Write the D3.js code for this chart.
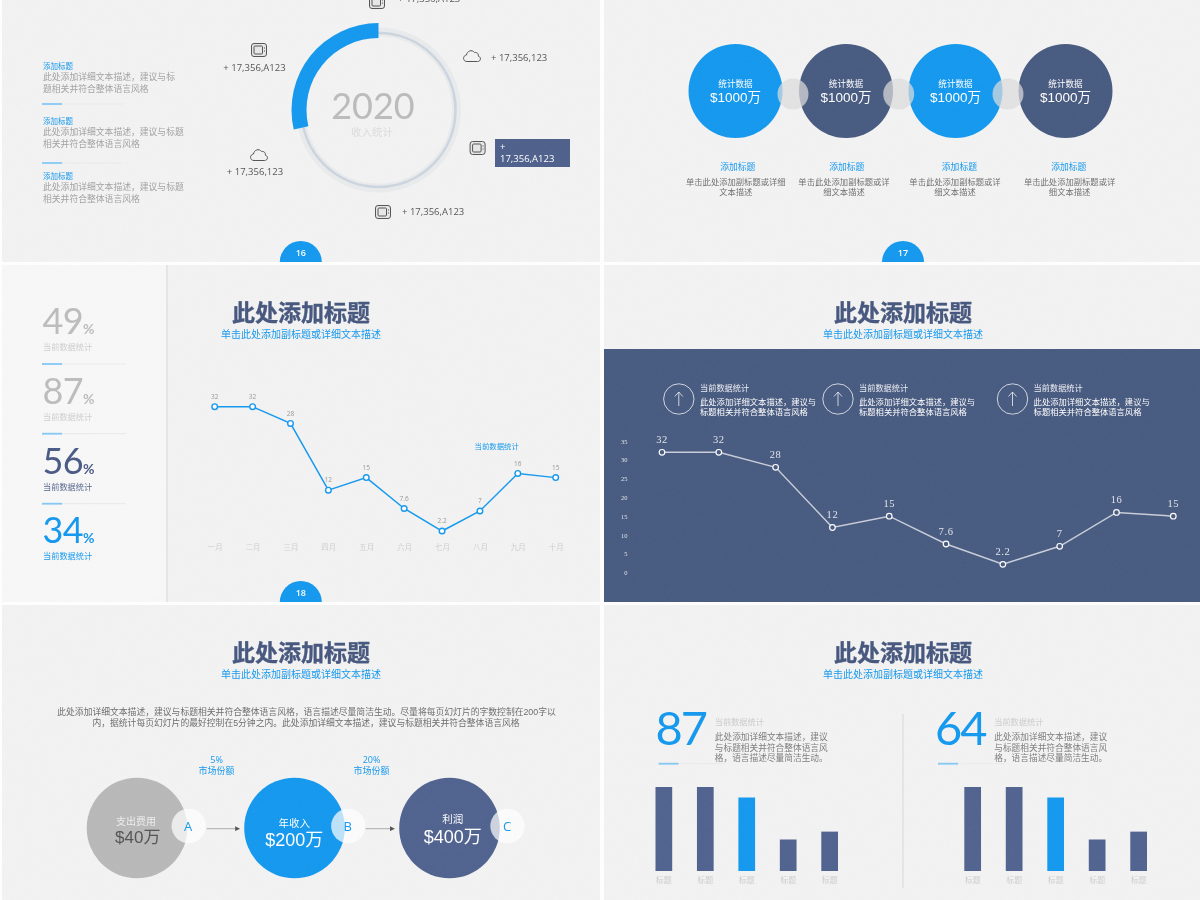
<!DOCTYPE html>
<html><head><meta charset="utf-8">
<style>html,body{margin:0;padding:0;background:#fff}svg{display:block}</style>
<script src="https://cdn.jsdelivr.net/npm/d3@7"></script>
</head><body><div id="c"></div>
<script>
// ---- data ----
const ringYear = "2020";
const ringLabel = "收入统计";
const ringShare = 0.286;
const sideTitle = "添加标题";
const sideBodies = [["此处添加详细文本描述，建议与标","题相关并符合整体语言风格"],["此处添加详细文本描述，建议与标题","相关并符合整体语言风格"],["此处添加详细文本描述，建议与标题","相关并符合整体语言风格"]];
const statCircleValues = ["$1000万","$1000万","$1000万","$1000万"];
const statCircleLabel = "统计数据";
const statBodies = [["单击此处添加副标题或详细","文本描述"],["单击此处添加副标题或详","细文本描述"],["单击此处添加副标题或详","细文本描述"],["单击此处添加副标题或详","细文本描述"]];
const months = ["一月","二月","三月","四月","五月","六月","七月","八月","九月","十月"];
const lineValues = [32,32,28,12,15,7.6,2.2,7,16,15];
const percents = [49,87,56,34];
const yTicks = [0,5,10,15,20,25,30,35];
const barLabels = ["标题a","标题b","标题c","标题d","标题e"];
const barValues = [32,32,28,12,15];
const barHighlight = "标题c";
const flowLabels = ["支出费用","年收入","利润"];
const flowValues = ["$40万","$200万","$400万"];
const flowLetters = ["A","B","C"];
const shareLabels = ["5%","20%"];
const titleText = "此处添加标题";
const subText = "单击此处添加副标题或详细文本描述";
const statLabel = "当前数据统计";

// ---- style ----
const BLUE="#1599ef", NAVY="#485a80", NAVY2="#50638f", GREY="#bdbdbd";
const CJK='"Liberation Sans","Noto Sans CJK SC",sans-serif', LATIN='"Open Sans","Noto Sans CJK SC",sans-serif', BIG='Lato,"Open Sans",sans-serif', SERIF='"Liberation Serif",serif';
const svg=d3.select("#c").append("svg").attr("width",1200).attr("height",900);
const defs=svg.append("defs");
const noise=defs.append("filter").attr("id","noise").attr("x",0).attr("y",0).attr("width","100%").attr("height","100%");
noise.append("feTurbulence").attr("type","fractalNoise").attr("baseFrequency",0.9).attr("numOctaves",2).attr("seed",4);
noise.append("feColorMatrix").attr("values","0 0 0 0 0.5  0 0 0 0 0.5  0 0 0 0 0.5  0 0 0 0.09 -0.01");
const soft=defs.append("filter").attr("id","soft").attr("x",0).attr("y",0).attr("width",1200).attr("height",900).attr("filterUnits","userSpaceOnUse");
soft.append("feGaussianBlur").attr("stdDeviation",0.45);
const mk=defs.append("marker").attr("id","arrow").attr("viewBox","0 0 6 6").attr("refX",5).attr("refY",3).attr("markerWidth",6).attr("markerHeight",6).attr("orient","auto");
mk.append("path").attr("d","M0,0L6,3L0,6Z").attr("fill","#555");

const root=svg.append("g").attr("filter","url(#soft)");
const slides=[[2,0,598,262],[604,0,596,262],[2,265,598,337],[604,265,596,337],[2,605,598,295],[604,605,596,295]];
const groups=slides.map((s,i)=>{
  defs.append("clipPath").attr("id","cl"+i).append("rect").attr("x",s[0]).attr("y",s[1]).attr("width",s[2]).attr("height",s[3]);
  const g=root.append("g").attr("clip-path",`url(#cl${i})`);
  g.append("rect").attr("x",s[0]).attr("y",s[1]).attr("width",s[2]).attr("height",s[3]).attr("fill","#f3f3f3");
  return g;
});
const hasCJK=s=>/[\u3000-\u9fff\uff00-\uffef]/.test(s);
function T(g,x,y,s,size,fill,anchor,weight){
  return g.append("text").attr("x",x).attr("y",y).attr("dy","0.35em").attr("font-size",size).attr("fill",fill)
    .attr("text-anchor",anchor||"start").attr("font-weight",weight||400).attr("font-family",hasCJK(s)?CJK:LATIN).text(s);
}
function pageBadge(g,cx,cy,n){
  g.append("circle").attr("cx",cx).attr("cy",cy).attr("r",21).attr("fill",BLUE);
  T(g,cx,cy-9,n,9,"#fff","middle",600);
}
function head(g,cx,top){
  T(g,cx,top+48,titleText,23,"#47587f","middle",700).attr("stroke","#47587f").attr("stroke-width",0.35);
  T(g,cx,top+69,subText,10,BLUE,"middle");
}
function rule(g,x,y,x2){
  g.append("line").attr("x1",x).attr("x2",x2).attr("y1",y).attr("y2",y).attr("stroke","#ececec").attr("stroke-width",1.2);
  g.append("line").attr("x1",x).attr("x2",x+20).attr("y1",y).attr("y2",y).attr("stroke","#85c9f5").attr("stroke-width",1.8);
}
function tvIcon(g,cx,cy){
  const k=g.append("g").attr("transform",`translate(${cx},${cy})`).attr("fill","none").attr("stroke","#555").attr("stroke-width",1);
  k.append("rect").attr("x",-7.5).attr("y",-6.5).attr("width",15).attr("height",13).attr("rx",2.5).attr("fill","#e8e8e8");
  k.append("rect").attr("x",-5).attr("y",-4).attr("width",8.5).attr("height",8).attr("rx",1);
  k.append("line").attr("x1",5).attr("x2",6).attr("y1",-2).attr("y2",-2);
  k.append("line").attr("x1",5).attr("x2",6).attr("y1",1).attr("y2",1);
}
function cloudIcon(g,cx,cy){
  g.append("path").attr("transform",`translate(${cx},${cy})`).attr("fill","none").attr("stroke","#555").attr("stroke-width",1)
   .attr("d","M-5,5.5C-9.5,5.5,-9.5,-0.5,-5.5,-1C-5,-5,0,-7,2.5,-3.5C5,-4,7,-2,6.2,0C9.5,1,9,5.5,5.5,5.5Z");
}

// ---- slide 16: ring ----
(function(){
  const g=groups[0], cx=378.5, cy=110;
  g.append("circle").attr("cx",cx).attr("cy",cy).attr("r",78).attr("fill","none").attr("stroke","#e9ebed").attr("stroke-width",9);
  g.append("circle").attr("cx",cx).attr("cy",cy).attr("r",77).attr("fill","none").attr("stroke","#cdd6e0").attr("stroke-width",2.6);
  const arc=d3.arc().innerRadius(72).outerRadius(87).startAngle(-ringShare*2*Math.PI).endAngle(0);
  g.append("path").attr("transform",`translate(${cx},${cy})`).attr("d",arc()).attr("fill",BLUE);
  g.append("text").attr("x",373).attr("y",118.5).attr("text-anchor","middle").attr("font-family",BIG).attr("font-size",36).attr("fill","#bcbcbc").text(ringYear);
  T(g,372,132.5,ringLabel,10.5,"#dcdcdc","middle");
  const tops=[66,121,176];
  sideBodies.forEach((b,i)=>{
    T(g,43,tops[i],sideTitle,7.5,BLUE);
    b.forEach((l,j)=>T(g,43,tops[i]+11+j*12,l,8.8,"#a3a3a3"));
  });
  rule(g,42,104,124); rule(g,42,163,122);
  const lab="#555", fs=9.5;
  tvIcon(g,377,2); T(g,398,-1,"+ 17,356,A123",fs,lab);
  cloudIcon(g,472,56); T(g,491,58,"+ 17,356,123",fs,lab);
  tvIcon(g,259,50); T(g,254.5,68,"+ 17,356,A123",fs,lab,"middle");
  cloudIcon(g,259,155); T(g,255,172,"+ 17,356,123",fs,lab,"middle");
  tvIcon(g,477.6,148);
  g.append("rect").attr("x",495).attr("y",139).attr("width",75).attr("height",28).attr("fill","#4f618c");
  T(g,500,147,"+",fs,"#fff"); T(g,500,159,"17,356,A123",fs,"#fff");
  tvIcon(g,383,212); T(g,402,212,"+ 17,356,A123",fs,lab);
  pageBadge(g,300.8,262,"16");
})();

// ---- slide 17: circles ----
(function(){
  const g=groups[1];
  const cxs=[735.5,846,955.5,1065.5], cols=[BLUE,NAVY,BLUE,NAVY];
  const bodyX=[735.8,844,955,1069.6], titleX=[737.8,846.8,959.4,1068.8];
  g.selectAll(".big").data(statCircleValues).join("circle").attr("cx",(d,i)=>cxs[i]).attr("cy",91).attr("r",47).attr("fill",(d,i)=>cols[i]);
  [793,898.7,1008].forEach(x=>g.append("circle").attr("cx",x).attr("cy",94).attr("r",15.5).attr("fill","#dcdcdc").attr("opacity",0.72));
  statCircleValues.forEach((v,i)=>{
    T(g,cxs[i],84,statCircleLabel,8.6,"#fff","middle");
    T(g,cxs[i],96.8,v,13.5,"#fff","middle");
    T(g,titleX[i],167,sideTitle,8.8,BLUE,"middle");
    statBodies[i].forEach((l,j)=>T(g,bodyX[i],182+j*10,l,8.3,"#707070","middle"));
  });
  pageBadge(g,903,262,"17");
})();

// ---- slide 18: line on light ----
(function(){
  const g=groups[2];
  g.append("rect").attr("x",2).attr("y",265).attr("width",165).attr("height",337).attr("fill","#f8f8f8");
  g.append("line").attr("x1",167).attr("x2",167).attr("y1",265).attr("y2",602).attr("stroke","#e2e2e2").attr("stroke-width",1.5);
  const base=[334,403.7,473.7,543], cols=[GREY,GREY,"#4a5a86",BLUE], labCols=["#cfcfcf","#cfcfcf","#56668e",BLUE];
  percents.forEach((p,i)=>{
    g.append("text").attr("x",42.5).attr("y",base[i]).attr("font-family",BIG).attr("font-size",36).attr("letter-spacing",-0.6).attr("fill",cols[i]).text(p);
    g.append("text").attr("x",83).attr("y",base[i]).attr("font-family",BIG).attr("font-size",14).attr("font-weight",700).attr("fill",cols[i]).text("%");
    T(g,43,base[i]+13.5,statLabel,8.2,labCols[i]);
    if(i<3) rule(g,42,base[i]+30,126);
  });
  head(g,301,265);
  const x=d3.scalePoint().domain(months).range([214.7,555.7]);
  const y=d3.scaleLinear().domain([0,32]).range([540.2,406.7]);
  const line=d3.line().x((d,i)=>x(months[i])).y(d=>y(d));
  g.append("path").attr("d",line(lineValues)).attr("fill","none").attr("stroke",BLUE).attr("stroke-width",1.5);
  g.selectAll(".pt").data(lineValues).join("circle").attr("cx",(d,i)=>x(months[i])).attr("cy",d=>y(d)).attr("r",2.8).attr("fill","#fff").attr("stroke",BLUE).attr("stroke-width",1.4);
  g.selectAll(".lb").data(lineValues).join("text").attr("x",(d,i)=>x(months[i])).attr("y",d=>y(d)-10).attr("dy","0.35em").attr("text-anchor","middle").attr("font-family",LATIN).attr("font-size",6.5).attr("fill","#999").text(d=>d);
  const ax=g.append("g").attr("transform","translate(0,545)").call(d3.axisBottom(x).tickSize(0).tickPadding(0));
  ax.select(".domain").remove();
  ax.selectAll("text").attr("font-size",7.5).attr("fill","#d0d0d0").attr("font-family",CJK);
  T(g,474.5,446.7,statLabel,7.4,BLUE);
  pageBadge(g,300.8,602,"18");
})();

// ---- slide 19: line on navy ----
(function(){
  const g=groups[3];
  head(g,903,265);
  g.append("rect").attr("x",604).attr("y",349).attr("width",596).attr("height",253).attr("fill",NAVY);
  [[678.8,700],[838,859],[1012.5,1033.6]].forEach(p=>{
    g.append("circle").attr("cx",p[0]).attr("cy",399).attr("r",15.2).attr("fill","none").attr("stroke","#dfe3ea").attr("stroke-width",0.9);
    g.append("path").attr("transform",`translate(${p[0]},399)`).attr("fill","none").attr("stroke","#dfe3ea").attr("stroke-width",0.9).attr("d","M0,7V-7M-4,-2.5L0,-7L4,-2.5");
    T(g,p[1],387.7,statLabel,8.2,"#eef0f4");
    T(g,p[1],402.3,"此处添加详细文本描述，建议与",8.3,"#fff");
    T(g,p[1],412.2,"标题相关并符合整体语言风格",8.3,"#fff");
  });
  const x=d3.scalePoint().domain(months).range([662,1173.3]);
  const y=d3.scaleLinear().domain([0,35]).range([572.6,441]);
  const line=d3.line().x((d,i)=>x(months[i])).y(d=>y(d));
  g.append("path").attr("d",line(lineValues)).attr("fill","none").attr("stroke","#c9ced9").attr("stroke-width",1.5);
  g.selectAll(".pt").data(lineValues).join("circle").attr("cx",(d,i)=>x(months[i])).attr("cy",d=>y(d)).attr("r",2.8).attr("fill",NAVY).attr("stroke","#fff").attr("stroke-width",1.2);
  g.selectAll(".lb").data(lineValues).join("text").attr("x",(d,i)=>x(months[i])).attr("y",d=>y(d)-13).attr("dy","0.35em").attr("text-anchor","middle").attr("font-size",10.5).attr("fill","#e3e6ec").attr("font-family",SERIF).attr("letter-spacing",0.6).text(d=>d);
  const ax=g.append("g").attr("transform","translate(627.5,0)").call(d3.axisLeft(y).tickValues(yTicks).tickSize(0).tickPadding(0));
  ax.select(".domain").remove();
  ax.selectAll("text").attr("font-size",6.5).attr("fill","#e3e6ec").attr("font-family",SERIF);
})();

// ---- slide 20: flow ----
(function(){
  const g=groups[4];
  head(g,301,605);
  T(g,306.5,712,"此处添加详细文本描述，建议与标题相关并符合整体语言风格，语言描述尽量简洁生动。尽量将每页幻灯片的字数控制在200字以",8.8,"#6e6e6e","middle");
  T(g,306,723,"内，据统计每页幻灯片的最好控制在5分钟之内。此处添加详细文本描述，建议与标题相关并符合整体语言风格",8.8,"#6e6e6e","middle");
  const cxs=[137,294.5,449.5], cols=["#b9b9b9",BLUE,NAVY2];
  const smallX=[188.7,348.3,507.5];
  g.selectAll(".f").data(flowLabels).join("circle").attr("cx",(d,i)=>cxs[i]).attr("cy",828).attr("r",50.3).attr("fill",(d,i)=>cols[i]);
  flowLetters.forEach((l,i)=>{
    g.append("circle").attr("cx",smallX[i]).attr("cy",826).attr("r",17.2).attr("fill","#fff").attr("opacity",0.72);
    T(g,smallX[i]-0.5,826,l,13,BLUE,"middle");
  });
  const labY=[821,823,819], valY=[836.6,840,836.6], valSize=[17,18,18], valX=[137.8,294.3,452.7], labX=[136,294.3,452.7], valCols=["#555","#fff","#fff"], labS=[10,10.5,10.5];
  flowLabels.forEach((l,i)=>{
    T(g,labX[i],labY[i],l,labS[i],i==0?"#eeeeee":"#fff","middle");
    T(g,valX[i],valY[i],flowValues[i],valSize[i],valCols[i],"middle",400);
  });
  [[206.7,239.2],[365.5,394]].forEach(a=>g.append("line").attr("x1",a[0]).attr("x2",a[1]).attr("y1",828.7).attr("y2",828.7).attr("stroke","#999").attr("stroke-width",0.8).attr("marker-end","url(#arrow)"));
  [216.6,371.6].forEach((x,i)=>{
    T(g,x,759.7,shareLabels[i],9,BLUE,"middle");
    T(g,x,771,"市场份额",9,BLUE,"middle");
  });
})();

// ---- slide 21: bars ----
(function(){
  const g=groups[5];
  head(g,903,605);
  g.append("line").attr("x1",903).attr("x2",903).attr("y1",714).attr("y2",888).attr("stroke","#d9d9d9").attr("stroke-width",1);
  const panels=[{num:"87",nx:655.5,tx:714.8,r:658.5,bar:[655.5,838],ly:881},{num:"64",nx:935,tx:994.2,r:938,bar:[964.3,1147],ly:881.7}];
  const y=d3.scaleLinear().domain([0,32]).range([871,787]);
  panels.forEach(p=>{
    g.append("text").attr("x",p.nx).attr("y",745).attr("font-family",BIG).attr("font-size",47).attr("letter-spacing",-2).attr("fill",BLUE).text(p.num);
    T(g,p.tx,722.3,statLabel,8.2,"#cccccc");
    ["此处添加详细文本描述，建议","与标题相关并符合整体语言风","格，语言描述尽量简洁生动。"].forEach((l,i)=>T(g,p.tx,[737,748,758][i],l,8.7,"#7d7d7d"));
    rule(g,p.r,763.7,p.tx+10);
    const x=d3.scaleBand().domain(barLabels).range(p.bar).paddingInner(0.597).paddingOuter(0);
    g.selectAll(null).data(barValues).join("rect").attr("x",(d,i)=>x(barLabels[i])).attr("width",x.bandwidth()).attr("y",d=>y(d)).attr("height",d=>871-y(d)).attr("fill",(d,i)=>barLabels[i]===barHighlight?BLUE:NAVY2);
    const ax=g.append("g").attr("transform",`translate(0,${p.ly-4})`).call(d3.axisBottom(x).tickSize(0).tickPadding(0).tickFormat(d=>d.slice(0,2)));
    ax.select(".domain").remove();
    ax.selectAll("text").attr("font-size",8).attr("fill","#cfcfcf").attr("font-family",CJK);
  });
})();

// paper texture on top
root.append("rect").attr("width",1200).attr("height",900).attr("filter","url(#noise)").attr("opacity",0.6).attr("pointer-events","none");
</script></body></html>
